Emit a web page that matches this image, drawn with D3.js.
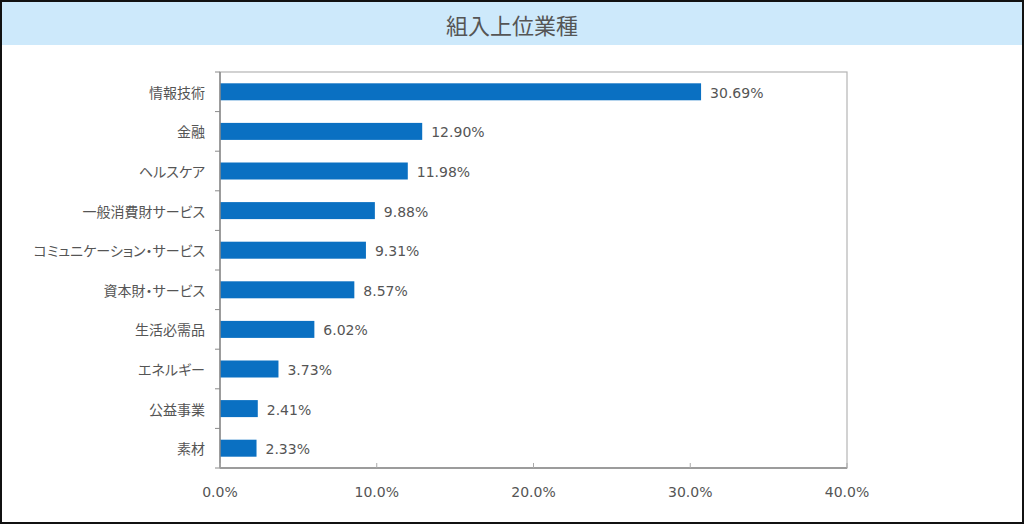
<!DOCTYPE html>
<html><head><meta charset="utf-8">
<script src="https://cdn.jsdelivr.net/npm/d3@7"></script>
<style>body{margin:0;background:#fff;}svg{display:block;} .jp{font-feature-settings:"palt" 1;}</style>
</head><body>
<svg id="c" width="1024" height="524"></svg>
<script>
const title = "組入上位業種";
const categories = ["情報技術","金融","ヘルスケア","一般消費財サービス","コミュニケーション・サービス","資本財・サービス","生活必需品","エネルギー","公益事業","素材"];
const values = [30.69,12.90,11.98,9.88,9.31,8.57,6.02,3.73,2.41,2.33];
const xTicks = [0,10,20,30,40];

const svg = d3.select("#c");
const W=1024,H=524;
const font = "'Noto Sans CJK JP', 'Noto Sans', sans-serif";
const numFont = "'DejaVu Sans', sans-serif";
svg.append("rect").attr("x",0).attr("y",0).attr("width",W).attr("height",H).attr("fill","#fff");
svg.append("rect").attr("x",2).attr("y",2).attr("width",W-4).attr("height",43).attr("fill","#cde9fb");
svg.append("text").attr("x",512).attr("y",24).attr("text-anchor","middle").attr("dominant-baseline","central")
  .attr("font-family",font).attr("font-size",22).attr("fill","#555").text(title);
svg.append("rect").attr("x",1).attr("y",1).attr("width",W-2).attr("height",H-2).attr("fill","none").attr("stroke","#111").attr("stroke-width",2);

const L=220,R=847,T=72,B=468;
const x = d3.scaleLinear().domain([0,40]).range([L,R]);
const y = d3.scaleBand().domain(categories).range([T,B]).paddingInner(0).paddingOuter(0);
const bh = 17;

// frame
svg.append("rect").attr("x",L).attr("y",T).attr("width",R-L).attr("height",B-T).attr("fill","none").attr("stroke","#b4b4b4").attr("stroke-width",1.2);

svg.selectAll("rect.bar").data(values).join("rect").attr("class","bar")
  .attr("x",x(0)).attr("y",(d,i)=>y(categories[i])+y.bandwidth()/2-bh/2)
  .attr("width",d=>x(d)-x(0)).attr("height",bh).attr("fill","#0a70c2");

svg.selectAll("text.val").data(values).join("text").attr("class","val")
  .attr("x",d=>x(d)+9).attr("y",(d,i)=>y(categories[i])+y.bandwidth()/2+1)
  .attr("dominant-baseline","central").attr("font-family",numFont).attr("font-size",14).attr("fill","#555")
  .text(d=>d.toFixed(2)+"%");

// left axis
const ga = svg.append("g");
ga.append("line").attr("x1",L).attr("x2",L).attr("y1",T).attr("y2",B).attr("stroke","#8a8a8a").attr("stroke-width",1.5);
const bounds = d3.range(categories.length+1).map(i=>T+i*y.step());
ga.selectAll("line.t").data(bounds).join("line").attr("class","t")
  .attr("x1",L-5).attr("x2",L).attr("y1",d=>d).attr("y2",d=>d).attr("stroke","#8a8a8a");
ga.selectAll("text").data(categories).join("text").attr("class","jp")
  .attr("x",205).attr("y",d=>y(d)+y.bandwidth()/2).attr("text-anchor","end").attr("dominant-baseline","central")
  .attr("font-family",font).attr("font-size",14).attr("fill","#555").text(d=>d);

// bottom axis
const gb = svg.append("g");
gb.append("line").attr("x1",L).attr("x2",R).attr("y1",B).attr("y2",B).attr("stroke","#8a8a8a").attr("stroke-width",1.5);
gb.selectAll("line.t").data(xTicks).join("line").attr("class","t")
  .attr("x1",d=>x(d)).attr("x2",d=>x(d)).attr("y1",B-5).attr("y2",B).attr("stroke","#aaa");
gb.selectAll("text").data(xTicks).join("text")
  .attr("x",d=>x(d)).attr("y",492).attr("text-anchor","middle").attr("dominant-baseline","central")
  .attr("font-family",numFont).attr("font-size",14).attr("fill","#555").text(d=>d.toFixed(1)+"%");
</script>
</body></html>
